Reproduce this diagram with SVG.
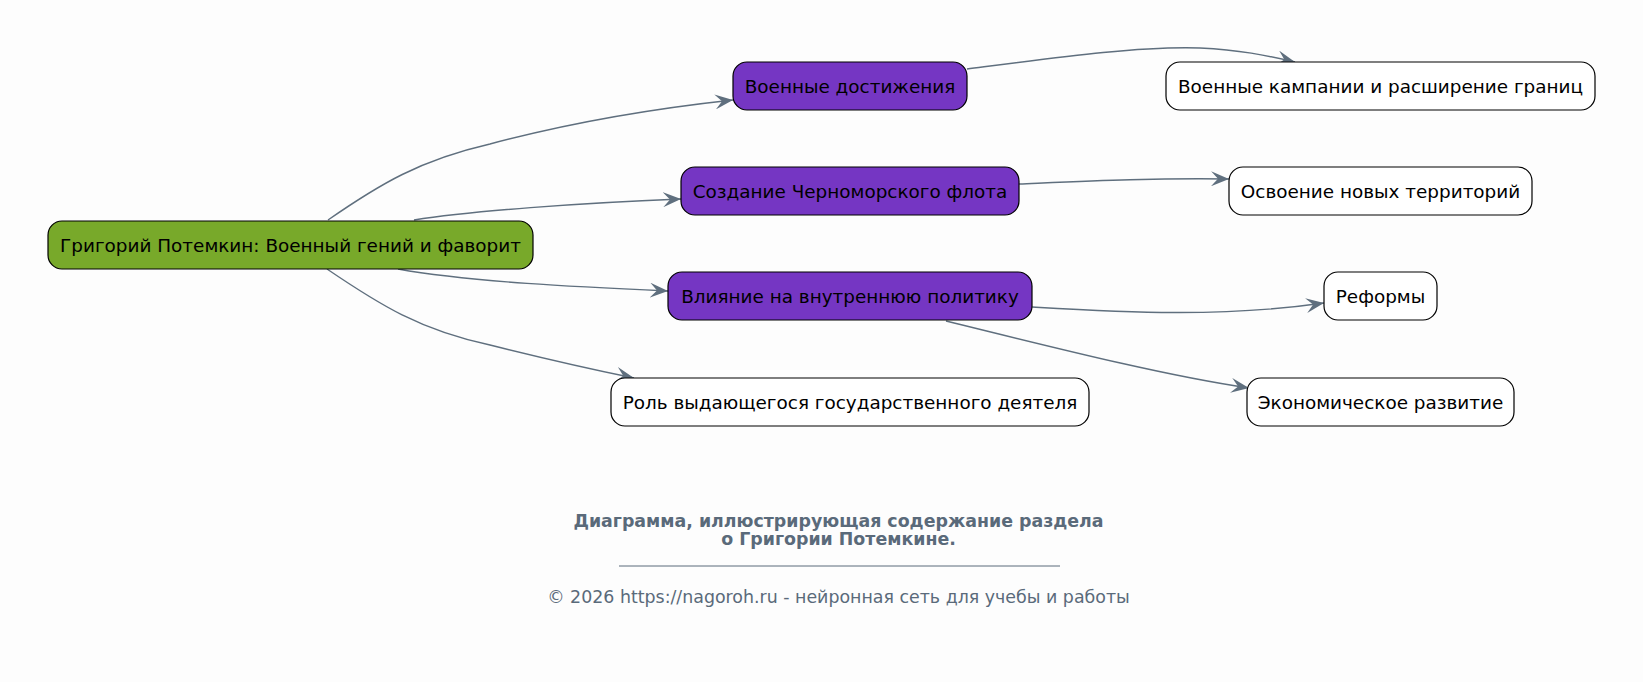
<svg xmlns="http://www.w3.org/2000/svg" width="1643" height="682" viewBox="0 0 1643 682">
<defs>
<style>
.n rect{stroke:#000;stroke-width:1.2}
.n text{font-family:"DejaVu Sans",sans-serif;font-size:18.4px;fill:#000;text-anchor:middle;dominant-baseline:central}
.root rect{fill:#78A92A}
.mid rect{fill:#7536C3}
.leaf rect{fill:#FFFFFF}
#edges path{fill:none;stroke:#5F6F7E;stroke-width:1.4;marker-end:url(#arr)}
.ft{font-family:"DejaVu Sans",sans-serif;fill:#5A6A7A;text-anchor:middle;font-size:17.4px}
</style>
<marker id="arr" markerUnits="userSpaceOnUse" markerWidth="18" markerHeight="15" viewBox="0 0 18 15" refX="18" refY="7.5" orient="auto">
<path d="M0,0 L18,7.5 L0,15 L7,7.5 z" fill="#5F6F7E"/>
</marker>
</defs>
<rect width="1643" height="682" fill="#FDFDFD"/>
<g id="edges">
<path d="M328,220 C380,184 420,160 490,144 C565,124 650,109 733,100"/>
<path d="M414,220 C470,211 580,203 681,199"/>
<path d="M398,269 C470,282 580,287 668,291"/>
<path d="M327,269 C380,305 420,330 490,345 C550,360 595,370 634,378"/>
<path d="M967,69 C1060,57 1140,46 1200,48 C1240,50 1265,55 1295,62"/>
<path d="M1019,184 C1090,181 1150,178 1229,179"/>
<path d="M1032,307 C1120,312 1220,318 1324,303"/>
<path d="M946,321 C1040,344 1160,375 1249,388"/>
</g>
<g id="root" class="n root"><rect x="48" y="221" width="485" height="48" rx="14"/><text x="290.5" y="245">Григорий Потемкин: Военный гений и фаворит</text></g>
<g id="voen" class="n mid"><rect x="733" y="62" width="234" height="48" rx="14"/><text x="850" y="86">Военные достижения</text></g>
<g id="flot" class="n mid"><rect x="681" y="167" width="338" height="48" rx="14"/><text x="850" y="191">Создание Черноморского флота</text></g>
<g id="vliyanie" class="n mid"><rect x="668" y="272" width="364" height="48" rx="14"/><text x="850" y="296">Влияние на внутреннюю политику</text></g>
<g id="rol" class="n leaf"><rect x="611" y="378" width="478" height="48" rx="14"/><text x="850" y="402">Роль выдающегося государственного деятеля</text></g>
<g id="kampanii" class="n leaf"><rect x="1166" y="62" width="429" height="48" rx="14"/><text x="1380.5" y="86">Военные кампании и расширение границ</text></g>
<g id="osvoenie" class="n leaf"><rect x="1229" y="167" width="303" height="48" rx="14"/><text x="1380.5" y="191">Освоение новых территорий</text></g>
<g id="reformy" class="n leaf"><rect x="1324" y="272" width="113" height="48" rx="14"/><text x="1380.5" y="296">Реформы</text></g>
<g id="ekonom" class="n leaf"><rect x="1247" y="378" width="267" height="48" rx="14"/><text x="1380.5" y="402">Экономическое развитие</text></g>
<g id="footer">
<text class="ft" x="838.5" y="527" font-weight="bold">Диаграмма, иллюстрирующая содержание раздела</text>
<text class="ft" x="838.5" y="545" font-weight="bold">о Григории Потемкине.</text>
<line x1="619" y1="566" x2="1060" y2="566" stroke="#5A6A7A" stroke-width="1"/>
<text class="ft" x="838.5" y="603">© 2026 https://nagoroh.ru - нейронная сеть для учебы и работы</text>
</g>
</svg>
